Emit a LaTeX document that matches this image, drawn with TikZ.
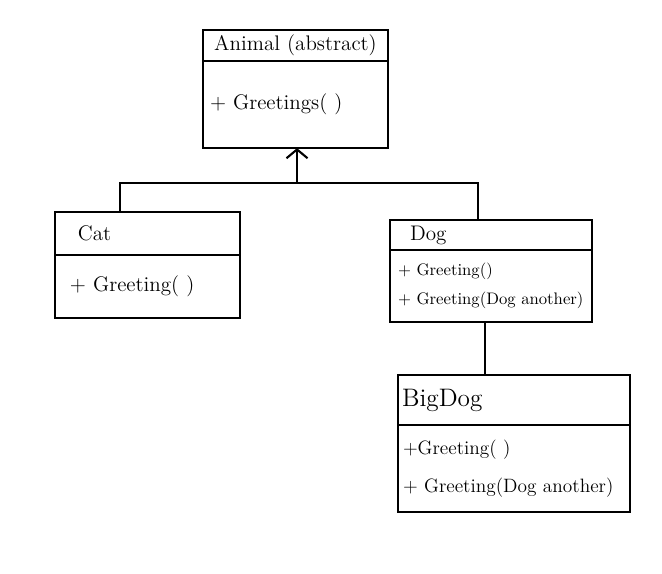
\documentclass[tikz,border=0pt]{standalone}
\usetikzlibrary{positioning}
\usetikzlibrary{arrows.meta}
\tikzset{
  class_head/.style = {draw, rectangle, outer sep=0pt, inner ysep=0.1cm, anchor=north west, align=left, font=\large},
  class_body/.style = {draw, rectangle, outer sep=0pt, inner ysep=0.1cm, align=left, font=\large},
  edge_inherit/.style = {-{Straight Barb[length=5pt,width=12pt]}},
}

\begin{document}
\begin{tikzpicture}[x=0.02cm, y=-0.02cm]
\pgfsetlinewidth{1.2pt}
\useasboundingbox (0,0) rectangle (662,574);

\node[class_head, align=center, inner xsep=0.1cm, text width=3.5cm, minimum height=0.62cm] (animal) at (203,30) {Animal (abstract)};
\node[class_body, inner xsep=0.14cm, text width=3.42cm, minimum height=1.74cm, below=0pt of animal] (animalbody) {+ Greetings( )};

\node[class_head, inner xsep=0.46cm, text width=2.78cm, minimum height=0.86cm] (cat) at (55,212) {Cat};
\node[class_body, inner xsep=0.3cm, text width=3.1cm, minimum height=1.26cm, below=0pt of cat] (catbody) {+ Greeting( )};

\node[class_head, inner xsep=0.4cm, text width=3.24cm, minimum height=0.6cm] (dog) at (390,220) {Dog};
\node[class_body, font=\fontsize{9.5}{11.5}\selectfont, inner xsep=0.16cm, text width=3.72cm, minimum height=1.44cm, below=0pt of dog] (dogbody) {+ Greeting()\\[0.17cm]+ Greeting(Dog another)};

\node[class_head, font=\Large, inner xsep=0.08cm, text width=4.48cm, minimum height=1.0cm] (bigdog) at (398,375) {BigDog};
\node[class_body, font=\fontsize{11}{13}\selectfont, inner xsep=0.1cm, text width=4.44cm, minimum height=1.74cm, below=0pt of bigdog] (bigdogbody) {+Greeting( )\\[0.3cm]+ Greeting(Dog another)};

% inheritance
\coordinate (fork) at (297,183);
\draw[edge_inherit] (fork) -- (fork |- animalbody.south);
\draw ([xshift=-0.55cm]cat.north) |- (fork) -| ([xshift=-0.26cm]dog.north);

\draw ([xshift=-0.12cm]dogbody.south) -- ([xshift=-0.12cm]dogbody.south |- bigdog.north);

\end{tikzpicture}
\end{document}
